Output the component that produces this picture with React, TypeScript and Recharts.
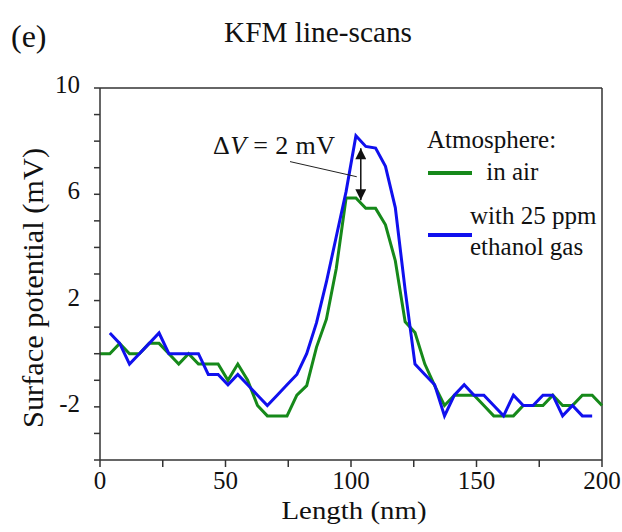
import { LineChart, Line, XAxis, YAxis, ReferenceLine, Legend } from "recharts";

// scan positions (nm)
const lengthNm = [
  0, 3.92, 7.84, 11.76, 15.69, 19.61, 23.53, 27.45, 31.37, 35.29,
  39.22, 43.14, 47.06, 50.98, 54.9, 58.82, 62.75, 66.67, 70.59, 74.51,
  78.43, 82.35, 86.27, 90.2, 94.12, 98.04, 101.96, 105.88, 109.8, 113.73,
  117.65, 121.57, 125.49, 129.41, 133.33, 137.25, 141.18, 145.1, 149.02, 152.94,
  156.86, 160.78, 164.71, 168.63, 172.55, 176.47, 180.39, 184.31, 188.24, 192.16,
  196.08, 200,
];

// surface potential (mV)
const inAir = [
  0, 0, 0.39, 0, 0, 0.39, 0.39, 0, -0.39, 0,
  -0.39, -0.39, -0.39, -1.0, -0.39, -1.0, -1.95, -2.34, -2.34, -2.34,
  -1.56, -1.2, 0.25, 1.3, 3.2, 5.86, 5.86, 5.47, 5.47, 4.85,
  3.5, 1.2, 0.8, -0.39, -1.2, -1.95, -1.56, -1.56, -1.56, -1.95,
  -2.34, -2.34, -2.34, -1.95, -1.95, -1.95, -1.56, -1.95, -1.95, -1.56,
  -1.56, -1.95,
];

const withEthanol = [
  null, 0.78, 0.39, -0.39, 0, 0.39, 0.78, 0, 0, 0,
  0, -0.78, -0.78, -1.17, -0.78, -1.17, -1.56, -1.95, -1.56, -1.17,
  -0.78, 0, 1.17, 2.7, 4.4, 6.1, 8.2, 7.8, 7.74, 7.05,
  5.5, 2.4, -0.39, -0.78, -1.17, -2.34, -1.56, -1.17, -1.56, -1.56,
  -1.95, -2.34, -1.56, -1.95, -1.95, -1.56, -1.56, -2.34, -1.95, -2.34,
  -2.34, null,
];

const xTicks = [0, 25, 50, 75, 100, 125, 150, 175, 200];
const xTickLabels = [0, 50, 100, 150, 200];
const yTicks = [-4, -3, -2, -1, 0, 1, 2, 3, 4, 5, 6, 7, 8, 9, 10];
const yTickLabels = [10, 6, 2, -2];

const seriesNames = ["in air", "with 25 ppm ethanol gas"];
const legendText = [[" in air"], ["with 25 ppm", "ethanol gas"]];

// ΔV annotation, data coordinates
const deltaArrow = [{ x: 103.9, y: 7.73 }, { x: 103.9, y: 5.78 }];
const pointer = [{ x: 75.7, y: 7.23 }, { x: 102.3, y: 6.66 }];

const data = lengthNm.map((x, i) => ({
  x,
  air: inAir[i],
  ethanol: withEthanol[i],
}));

const SERIF = "'Liberation Serif', 'Times New Roman', serif";
const GREEN = "#16891a";
const BLUE = "#1010ee";
const AXIS = "#333";

const XTick = ({ x, y, payload }: any) =>
  xTickLabels.includes(payload.value) ? (
    <text x={x} y={y + 20} textAnchor="middle" fontSize={25} fontFamily={SERIF} fill="#111">
      {payload.value}
    </text>
  ) : (
    <g />
  );

const YTick = ({ x, y, payload }: any) =>
  yTickLabels.includes(payload.value) ? (
    <text x={x} y={y + 5} textAnchor="end" fontSize={25} fontFamily={SERIF} fill="#111">
      {payload.value}
    </text>
  ) : (
    <g />
  );

const XTitle = ({ viewBox }: any) => (
  <text
    x={viewBox.x + viewBox.width / 2 + 3}
    y={519}
    textAnchor="middle"
    fontSize={26}
    textLength={145}
    lengthAdjust="spacingAndGlyphs"
    fontFamily={SERIF}
    fill="#111"
  >
    Length (nm)
  </text>
);

const YTitle = ({ viewBox }: any) => {
  const cx = 43;
  const cy = viewBox.y + viewBox.height / 2 + 14;
  return (
    <text
      x={cx}
      y={cy}
      transform={`rotate(-90 ${cx} ${cy})`}
      textAnchor="middle"
      fontSize={29}
      textLength={280}
      lengthAdjust="spacingAndGlyphs"
      fontFamily={SERIF}
      fill="#111"
    >
      Surface potential (mV)
    </text>
  );
};

const renderLegend = ({ payload }: any) => {
  const rows = [
    { lineY: 48, textX: 60, baselines: [55] },
    { lineY: 110, textX: 50, baselines: [99, 130] },
  ];
  return (
    <svg width={190} height={140} style={{ overflow: "visible" }}>
      <text x={7} y={23} fontSize={25} fontFamily={SERIF} fill="#111">
        Atmosphere:
      </text>
      {(payload ?? []).map((entry: any, i: number) => {
        const r = rows[i];
        if (!r) return null;
        return (
          <g key={i}>
            <line x1={8} x2={52} y1={r.lineY} y2={r.lineY} stroke={entry.color} strokeWidth={4} />
            {legendText[i].map((t, j) => (
              <text key={j} x={r.textX} y={r.baselines[j]} fontSize={25} fontFamily={SERIF} fill="#111" xmlSpace="preserve">
                {t}
              </text>
            ))}
          </g>
        );
      })}
    </svg>
  );
};

export default function App() {
  return (
    <div style={{ position: "fixed", left: 0, top: 0, width: 622, height: 532, background: "#fff" }}>
      <LineChart width={622} height={532} data={data} margin={{ top: 88, right: 20, bottom: 42, left: 40 }}>
        <XAxis
          dataKey="x"
          type="number"
          domain={[0, 200]}
          ticks={xTicks}
          interval={0}
          tickSize={7}
          tickMargin={2}
          height={30}
          stroke={AXIS}
          strokeWidth={1.5}
          tick={<XTick />}
          label={<XTitle />}
        />
        <YAxis
          type="number"
          domain={[-4, 10]}
          ticks={yTicks}
          interval={0}
          tickSize={6}
          tickMargin={14}
          width={60}
          stroke={AXIS}
          strokeWidth={1.5}
          tick={<YTick />}
          label={<YTitle />}
        />
        <ReferenceLine y={10} stroke={AXIS} strokeWidth={1.5} />
        <ReferenceLine x={200} stroke={AXIS} strokeWidth={1.5} />
        <Line
          type="linear"
          dataKey="air"
          name={seriesNames[0]}
          stroke={GREEN}
          strokeWidth={3}
          dot={false}
          isAnimationActive={false}
        />
        <Line
          type="linear"
          dataKey="ethanol"
          name={seriesNames[1]}
          stroke={BLUE}
          strokeWidth={3}
          dot={false}
          isAnimationActive={false}
        />
        <ReferenceLine
          segment={pointer}
          shape={(p: any) => (
            <g>
              <line x1={p.x1} y1={p.y1} x2={p.x2} y2={p.y2} stroke="#222" strokeWidth={1} />
              <text x={p.x1 - 77} y={p.y1 - 8} fontSize={26} fontFamily={SERIF} fill="#111" textLength={122}>
                <tspan>Δ</tspan>
                <tspan fontStyle="italic">V</tspan>
                <tspan> = 2 mV</tspan>
              </text>
            </g>
          )}
        />
        <ReferenceLine
          segment={deltaArrow}
          shape={(p: any) => (
            <line
              x1={p.x1}
              y1={p.y1}
              x2={p.x2}
              y2={p.y2}
              stroke="#111"
              strokeWidth={1.5}
              markerStart="url(#arrowHead)"
              markerEnd="url(#arrowHead)"
            />
          )}
        />
        <Legend
          verticalAlign="middle"
          content={renderLegend}
          wrapperStyle={{ left: 420, top: 125, width: 190, height: 140 }}
        />
      </LineChart>
      <svg
        width={622}
        height={532}
        style={{ position: "absolute", left: 0, top: 0, pointerEvents: "none" }}
      >
        <defs>
          <marker
            id="arrowHead"
            viewBox="0 0 10 10"
            refX={10}
            refY={5}
            markerUnits="userSpaceOnUse"
            markerWidth={12}
            markerHeight={11}
            orient="auto-start-reverse"
          >
            <path d="M0,0 L10,5 L0,10 z" fill="#111" />
          </marker>
        </defs>
        <text x={11} y={47} fontSize={32} fontFamily={SERIF} fill="#111">
          (e)
        </text>
        <text
          x={318}
          y={42}
          textAnchor="middle"
          fontSize={29}
          textLength={188}
          lengthAdjust="spacingAndGlyphs"
          fontFamily={SERIF}
          fill="#111"
        >
          KFM line-scans
        </text>
      </svg>
    </div>
  );
}
